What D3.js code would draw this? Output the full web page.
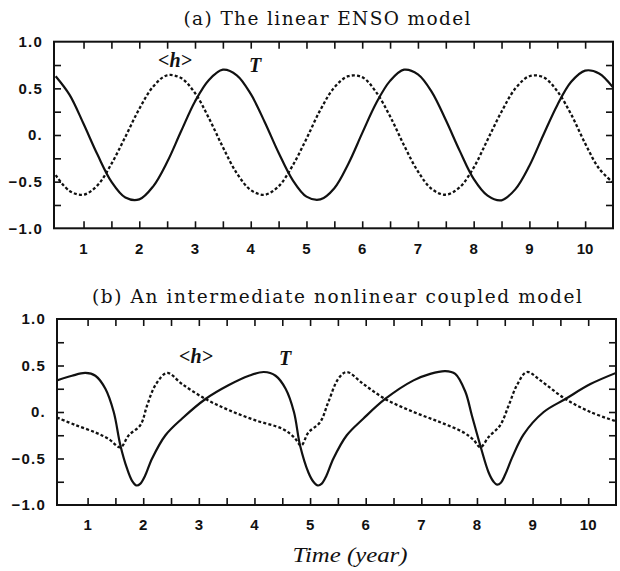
<!DOCTYPE html>
<html>
<head>
<meta charset="utf-8">
<script src="https://cdn.jsdelivr.net/npm/d3@7"></script>
<style>
  html, body { margin: 0; padding: 0; background: #fff; }
  svg { display: block; }
</style>
</head>
<body>
<svg id="chart" width="620" height="571"></svg>
<script>
// ---------- data ----------
const titleA = "(a) The linear ENSO model";
const titleB = "(b) An intermediate nonlinear coupled model";
const xLabel = "Time (year)";
const seriesLabels = ["<h>", "T"];

const xTickYears = [1, 2, 3, 4, 5, 6, 7, 8, 9, 10];
const yTickValues = [1.0, 0.5, 0, -0.5, -1.0];
const yTickLabels = ["1.0", "0.5", "0.", "\u22120.5", "\u22121.0"];

// panel (a): sampled every quarter year
const aYears = [0.5, 0.75, 1.0, 1.25, 1.5, 1.75, 2.0, 2.25, 2.5, 2.75, 3.0, 3.25, 3.5, 3.75,
  4.0, 4.25, 4.5, 4.75, 5.0, 5.25, 5.5, 5.75, 6.0, 6.25, 6.5, 6.75, 7.0, 7.25, 7.5, 7.75,
  8.0, 8.25, 8.5, 8.75, 9.0, 9.25, 9.5, 9.75, 10.0, 10.25, 10.5];
const aT = [0.63, 0.43, 0.12, -0.21, -0.50, -0.67, -0.69, -0.55, -0.29, 0.04, 0.36, 0.59, 0.70, 0.64,
  0.44, 0.14, -0.19, -0.48, -0.66, -0.69, -0.57, -0.31, 0.02, 0.34, 0.58, 0.70, 0.65, 0.46, 0.16, -0.17,
  -0.47, -0.65, -0.70, -0.58, -0.33, 0.00, 0.32, 0.57, 0.69, 0.66, 0.51];
const aH = [-0.43, -0.60, -0.64, -0.54, -0.31, -0.02, 0.28, 0.52, 0.64, 0.61, 0.45, 0.18, -0.13, -0.41,
  -0.59, -0.64, -0.55, -0.33, -0.04, 0.27, 0.51, 0.63, 0.62, 0.46, 0.20, -0.11, -0.39, -0.58, -0.64, -0.56,
  -0.35, -0.05, 0.25, 0.50, 0.63, 0.62, 0.47, 0.22, -0.09, -0.36, -0.51];

// panel (b): read at irregular times
const bTimeT = [0.45, 0.72, 0.96, 1.14, 1.32, 1.47, 1.59, 1.71, 1.80, 1.88, 1.95, 2.03, 2.16, 2.40, 2.70,
  3.12, 3.54, 3.90, 4.17, 4.38, 4.56, 4.71, 4.82, 4.97, 5.06, 5.14, 5.21, 5.29, 5.42, 5.66, 5.96, 6.35,
  6.86, 7.16, 7.43, 7.61, 7.79, 7.91, 8.06, 8.21, 8.30, 8.36, 8.43, 8.51, 8.64, 8.84, 9.20, 9.59, 10.04, 10.5];
const bT = [0.34, 0.39, 0.42, 0.39, 0.25, 0.00, -0.36, -0.61, -0.74, -0.79, -0.77, -0.69, -0.50, -0.25, -0.07,
  0.14, 0.29, 0.39, 0.43, 0.39, 0.25, 0.00, -0.36, -0.65, -0.75, -0.79, -0.77, -0.69, -0.50, -0.25, -0.07, 0.14,
  0.34, 0.41, 0.44, 0.41, 0.22, -0.04, -0.36, -0.65, -0.75, -0.78, -0.76, -0.67, -0.48, -0.24, 0.00, 0.14, 0.30, 0.42];
const bTimeH = [0.45, 0.78, 1.14, 1.38, 1.59, 1.74, 1.95, 2.07, 2.22, 2.43, 2.70, 3.12, 3.54, 4.02, 4.50,
  4.71, 4.84, 4.97, 5.18, 5.33, 5.51, 5.66, 5.96, 6.35, 6.86, 7.34, 7.76, 7.94, 8.06, 8.21, 8.42, 8.57,
  8.72, 8.90, 9.14, 9.59, 10.04, 10.5];
const bH = [-0.06, -0.14, -0.22, -0.29, -0.38, -0.25, -0.14, 0.07, 0.29, 0.42, 0.30, 0.14, 0.02, -0.09, -0.18,
  -0.27, -0.36, -0.22, -0.11, 0.11, 0.36, 0.43, 0.30, 0.14, 0.00, -0.11, -0.22, -0.30, -0.38, -0.27, -0.14, 0.07,
  0.29, 0.43, 0.34, 0.14, 0.00, -0.10];

// ---------- drawing ----------
const svg = d3.select("#chart");
const tickFont = "'Liberation Sans', Arial, sans-serif";
const serif = "'DejaVu Serif', 'Liberation Serif', serif";
const labelSerif = "'Liberation Serif', 'Times New Roman', serif";

function panel(cfg) {
  const x = d3.scaleLinear().domain(cfg.xDomain).range([cfg.left, cfg.right]);
  const y = d3.scaleLinear().domain([-1, 1]).range([cfg.bottom, cfg.top]);
  const g = svg.append("g");

  const clipId = "clip" + cfg.id;
  svg.append("defs").append("clipPath").attr("id", clipId)
    .append("rect").attr("x", cfg.left).attr("y", cfg.top)
    .attr("width", cfg.right - cfg.left).attr("height", cfg.bottom - cfg.top);

  // ticks (inward) via d3 axes
  const halfYears = d3.range(0.5, 10.51, 0.5).filter(v => x(v) > cfg.left + 4 && x(v) < cfg.right - 4);
  const quarterVals = d3.range(-0.75, 0.76, 0.25);
  const tl = 7;
  g.append("g").attr("transform", `translate(0,${cfg.bottom})`)
    .call(d3.axisTop(x).tickValues(halfYears).tickSize(tl).tickFormat(""));
  g.append("g").attr("transform", `translate(0,${cfg.top})`)
    .call(d3.axisBottom(x).tickValues(halfYears).tickSize(tl).tickFormat(""));
  g.append("g").attr("transform", `translate(${cfg.left},0)`)
    .call(d3.axisRight(y).tickValues(quarterVals).tickSize(tl).tickFormat(""));
  g.append("g").attr("transform", `translate(${cfg.right},0)`)
    .call(d3.axisLeft(y).tickValues(quarterVals).tickSize(tl).tickFormat(""));
  g.selectAll(".domain").remove();
  g.selectAll(".tick line").attr("stroke", "#111").attr("stroke-width", 1.6);

  // frame
  g.append("rect").attr("x", cfg.left).attr("y", cfg.top)
    .attr("width", cfg.right - cfg.left).attr("height", cfg.bottom - cfg.top)
    .attr("fill", "none").attr("stroke", "#111").attr("stroke-width", 2);

  // y labels
  g.selectAll(".ylab").data(yTickValues).enter().append("text")
    .attr("x", cfg.left - 11).attr("y", d => y(d)).attr("dy", "0.36em")
    .attr("text-anchor", "end").attr("font-family", tickFont).attr("font-weight", "bold")
    .attr("font-size", 15).attr("letter-spacing", 1.2).attr("fill", "#111")
    .text((d, i) => yTickLabels[i]);

  // x labels
  g.selectAll(".xlab").data(xTickYears).enter().append("text")
    .attr("x", d => x(d)).attr("y", cfg.xLabelY)
    .attr("text-anchor", "middle").attr("font-family", tickFont).attr("font-weight", "bold")
    .attr("font-size", 15).attr("fill", "#111")
    .text(d => d);

  // title
  g.append("text").attr("x", cfg.titleX).attr("y", cfg.titleY)
    .attr("text-anchor", "middle").attr("font-family", serif).attr("font-size", 18.5)
    .attr("fill", "#111").attr("textLength", cfg.titleLen).attr("lengthAdjust", "spacing")
    .text(cfg.title);

  const line = d3.line().x(d => x(d[0])).y(d => y(d[1])).curve(d3.curveCatmullRom.alpha(0.5));
  const lines = g.append("g").attr("clip-path", `url(#${clipId})`);
  lines.append("path").datum(d3.zip(cfg.tH, cfg.vH)).attr("d", line)
    .attr("fill", "none").attr("stroke", "#111").attr("stroke-width", 2.3)
    .attr("stroke-dasharray", "3,2.2");
  lines.append("path").datum(d3.zip(cfg.tT, cfg.vT)).attr("d", line)
    .attr("fill", "none").attr("stroke", "#111").attr("stroke-width", 2.2);

  // series labels
  g.append("text").attr("x", cfg.hLab[0]).attr("y", cfg.hLab[1]).attr("text-anchor", "middle")
    .attr("font-family", labelSerif).attr("font-style", "italic").attr("font-weight", "bold")
    .attr("font-size", 20).attr("fill", "#111").text(seriesLabels[0]);
  g.append("text").attr("x", cfg.tLab[0]).attr("y", cfg.tLab[1]).attr("text-anchor", "middle")
    .attr("font-family", labelSerif).attr("font-style", "italic").attr("font-weight", "bold")
    .attr("font-size", 20).attr("fill", "#111").text(seriesLabels[1]);
}

panel({
  id: "a", xDomain: [0.47, 10.5], left: 54, right: 613, top: 41.7, bottom: 228.3,
  xLabelY: 254, title: titleA, titleX: 327, titleY: 25, titleLen: 287,
  tT: aYears, vT: aT, tH: aYears, vH: aH, hLab: [175, 67], tLab: [255, 72]
});
panel({
  id: "b", xDomain: [0.45, 10.5], left: 57, right: 616, top: 319, bottom: 505,
  xLabelY: 530, title: titleB, titleX: 337, titleY: 303, titleLen: 490,
  tT: bTimeT, vT: bT, tH: bTimeH, vH: bH, hLab: [196, 363], tLab: [285, 365]
});

svg.append("text").attr("x", 350).attr("y", 562).attr("text-anchor", "middle")
  .attr("font-family", labelSerif).attr("font-style", "italic").attr("font-size", 20)
  .attr("fill", "#111").attr("textLength", 115).attr("lengthAdjust", "spacingAndGlyphs")
  .text(xLabel);
</script>
</body>
</html>
